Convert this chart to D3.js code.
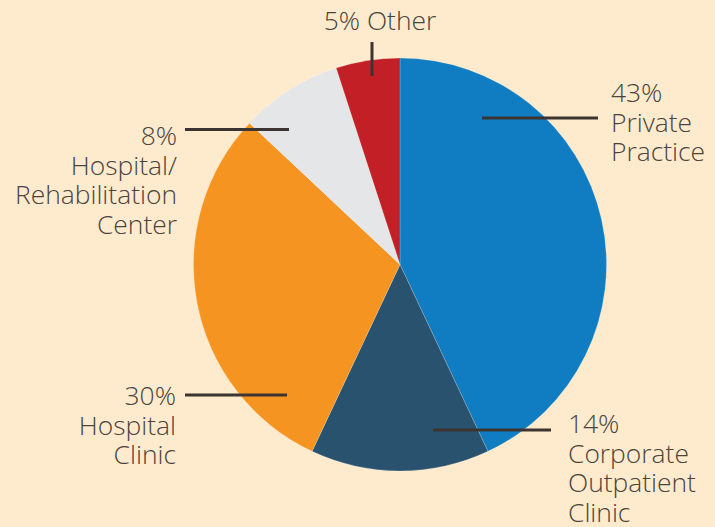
<!DOCTYPE html>
<html><head><meta charset="utf-8">
<script src="https://cdn.jsdelivr.net/npm/d3@7"></script>
<style>
html,body{margin:0;padding:0;background:#feebcd;}
svg{display:block;}
</style></head>
<body>
<svg id="chart" width="715" height="527"></svg>
<script>
// ---- data ----
const categories = ["Private Practice", "Corporate Outpatient Clinic", "Hospital Clinic", "Hospital/Rehabilitation Center", "Other"];
const values = [43, 14, 30, 8, 5];
const colors = ["#107dc2", "#29526f", "#f69421", "#e5e6e8", "#c21f26"];
const labelLines = [
  ["43%", "Private", "Practice"],
  ["14%", "Corporate", "Outpatient", "Clinic"],
  ["30%", "Hospital", "Clinic"],
  ["8%", "Hospital/", "Rehabilitation", "Center"],
  ["5% Other"]
];

// ---- layout ----
const W = 715, H = 527;
const cx = 400, cy = 264.5, R = 206.5;
const fontSize = 26.5, lineH = 29.5;
const layout = [
  {line:[482,118,598,118], tx:611, ty:102, anchor:"start"},
  {line:[433,430,551,430], tx:568, ty:433, anchor:"start"},
  {line:[185,395,287,395], tx:176, ty:405, anchor:"end"},
  {line:[185,129.5,289,129.5], tx:177, ty:145, anchor:"end"},
  {line:[372,42,372,76], tx:380, ty:30, anchor:"middle"}
];

const svg = d3.select("#chart");
svg.append("rect").attr("width", W).attr("height", H).attr("fill", "#feebcd");

const pie = d3.pie().sort(null).value(d => d)(values);
const arc = d3.arc().innerRadius(0).outerRadius(R);
const color = d3.scaleOrdinal().domain(categories).range(colors);

svg.append("g").attr("transform", `translate(${cx},${cy})`)
  .selectAll("path").data(pie).join("path")
  .attr("d", arc)
  .attr("fill", (d, i) => color(categories[i]))
  .attr("stroke", "rgba(255,255,255,0.3)")
  .attr("stroke-width", 0.6);

svg.append("g").selectAll("line").data(layout).join("line")
  .attr("x1", d => d.line[0]).attr("y1", d => d.line[1])
  .attr("x2", d => d.line[2]).attr("y2", d => d.line[3])
  .attr("stroke", "#3b3430").attr("stroke-width", 3);

const lg = svg.append("g")
  .attr("font-family", "'Open Sans', 'Noto Sans', sans-serif")
  .attr("font-size", fontSize)
  .attr("font-weight", 300)
  .attr("fill", "#4b433c");

const probe = lg.append("text").text("Rehabilitation");
const natural = probe.node().getComputedTextLength();
probe.remove();
const squeeze = 162 / natural;

labelLines.forEach((lines, i) => {
  const L = layout[i];
  lines.forEach((s, j) => {
    const t = lg.append("text")
      .attr("x", L.tx).attr("y", L.ty + j * lineH)
      .attr("text-anchor", L.anchor)
      .text(s);
    const len = t.node().getComputedTextLength();
    t.attr("textLength", len * squeeze).attr("lengthAdjust", "spacingAndGlyphs");
  });
});
</script>
</body></html>
